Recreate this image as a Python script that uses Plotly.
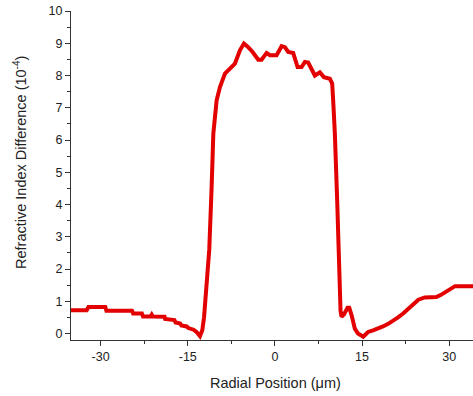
import plotly.graph_objects as go

radial_um = [-35.1, -32.4, -32.1, -29.2, -29.0, -24.6, -24.4, -22.9, -22.7, -21.4, -21.2, -21.0,
             -19.0, -18.9, -17.3, -17.1, -16.3, -16.1, -15.2, -14.9, -14.0, -13.5, -12.9,
             -12.5, -12.2, -11.75, -11.3, -10.9, -10.6, -10.03, -9.46, -8.6, -7.74, -6.88,
             -6.02, -5.33, -4.59, -3.84, -2.87, -2.29, -1.43, -0.86, 0.29, 1.15, 1.72, 2.29,
             3.15, 3.9, 4.59, 5.16, 5.73, 6.31, 6.88, 7.74, 8.43, 9.46, 9.86, 10.03, 10.32,
             10.72, 11.06, 11.3, 11.47, 11.9, 12.5, 12.8, 13.2, 13.76, 14.3, 14.9, 15.2, 15.6,
             16.05, 16.9, 17.7, 18.6, 19.5, 20.35, 21.2, 22.07, 23.0, 23.8, 24.7, 25.8, 27.8,
             28.6, 29.5, 30.2, 31.0, 34.1]
index_diff = [0.72, 0.72, 0.82, 0.82, 0.71, 0.71, 0.62, 0.62, 0.53, 0.53, 0.59, 0.53,
              0.52, 0.45, 0.42, 0.34, 0.31, 0.25, 0.22, 0.17, 0.12, 0.05, -0.08,
              0.1, 0.5, 1.4, 2.6, 4.5, 6.2, 7.23, 7.64, 8.06, 8.21, 8.37,
              8.78, 8.99, 8.88, 8.73, 8.49, 8.49, 8.70, 8.63, 8.63, 8.91, 8.88, 8.73,
              8.70, 8.26, 8.26, 8.42, 8.40, 8.16, 8.0, 8.1, 7.95, 7.9, 7.75, 7.23, 6.2,
              4.13, 1.55, 0.7, 0.52, 0.6, 0.8, 0.8, 0.57, 0.15, 0.0, -0.08, -0.1, -0.03,
              0.05, 0.1, 0.15, 0.22, 0.3, 0.39, 0.5, 0.62, 0.78, 0.93, 1.05, 1.12, 1.13,
              1.2, 1.29, 1.38, 1.47, 1.47]

x_ticks = [-30, -15, 0, 15, 30]
x_tick_labels = ["-30", "-15", "0", "15", "30"]
y_ticks = list(range(0, 11))

fig = go.Figure()
fig.add_trace(go.Scatter(x=radial_um, y=index_diff, mode="lines",
                         line=dict(color="rgb(226,0,0)", width=4),
                         showlegend=False, hoverinfo="skip"))

axis_font = dict(family="Liberation Sans, Arial, sans-serif", size=12.5, color="#222")
fig.update_layout(
    width=473, height=396,
    margin=dict(l=71, r=0, t=11, b=56),
    plot_bgcolor="white", paper_bgcolor="white",
    font=axis_font,
    xaxis=dict(range=[-35.1, 34.1], tickvals=x_ticks, ticktext=x_tick_labels,
               ticks="outside", ticklen=5,
               tickcolor="#333", showline=True, linecolor="#333", linewidth=1,
               showgrid=False, zeroline=False, tickfont=axis_font,
               minor=dict(tickvals=[-22.5, -7.5, 7.5, 22.5], ticks="outside",
                          ticklen=3, tickcolor="#333", showgrid=False)),
    yaxis=dict(range=[-0.2, 10], tickvals=y_ticks, ticks="outside", ticklen=5,
               tickcolor="#333", showline=True, linecolor="#333", linewidth=1,
               showgrid=False, zeroline=False, tickfont=axis_font,
               minor=dict(tickvals=[v + 0.5 for v in range(0, 10)], ticks="outside",
                          ticklen=3, tickcolor="#333", showgrid=False)),
    annotations=[
        dict(text="Radial Position (\u03bcm)", x=275, y=396 - 383, xref="paper", yref="paper",
             showarrow=False, font=dict(family="Liberation Sans, Arial, sans-serif", size=14.5, color="#222")),
        dict(text="Refractive Index Difference (10<sup>-4</sup>)", x=20, y=396 - 163,
             xref="paper", yref="paper", textangle=-90, showarrow=False,
             font=dict(family="Liberation Sans, Arial, sans-serif", size=14.5, color="#222")),
    ],
)
# convert pixel-placed annotations to paper coordinates
pw = 473 - 71 - 0
ph = 396 - 11 - 56
for a in fig.layout.annotations:
    a.x = (a.x - 71) / pw
    a.y = (a.y - 56) / ph
    a.xanchor = "center"
    a.yanchor = "middle"

fig.write_html("out.html")
